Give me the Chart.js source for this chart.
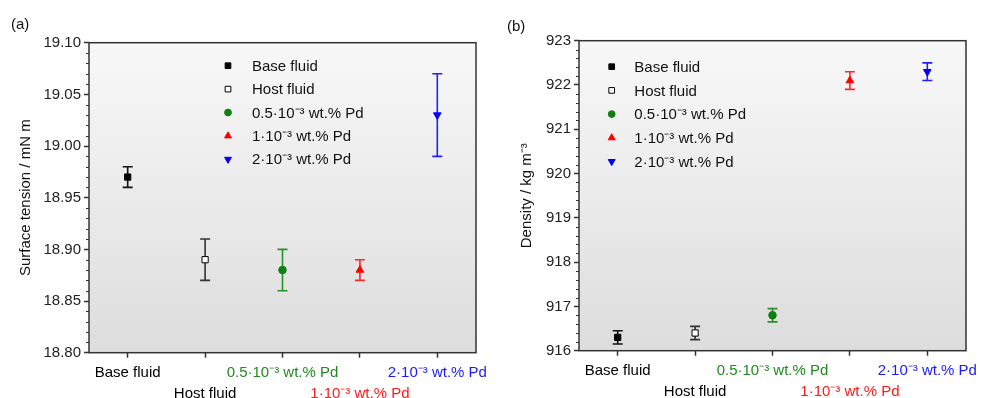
<!doctype html>
<html>
<head>
<title>Surface tension and density</title>
<script src="https://cdn.jsdelivr.net/npm/chart.js@4.4.0/dist/chart.umd.min.js"></script>
<style>
body{margin:0;background:#fff;}
#wrap{display:flex;width:981px;height:398px;}
canvas{display:block;}
</style>
</head>
<body>
<div id="wrap">
	<canvas id="left" width="490" height="398"></canvas>
	<canvas id="right" width="491" height="398"></canvas>
</div>
<script>
// data
const categories = ['Base fluid', 'Host fluid', '0.5·10⁻³ wt.% Pd', '1·10⁻³ wt.% Pd', '2·10⁻³ wt.% Pd'];
const tension = [18.97, 18.89, 18.88, 18.88, 19.03];
const tensionErr = [0.01, 0.02, 0.02, 0.01, 0.04];
const density = [916.3, 916.4, 916.8, 922.1, 922.3];
const densityErr = [0.15, 0.15, 0.15, 0.2, 0.2];
const tensionTicks = {min: 18.80, max: 19.10, step: 0.05, minor: 0.01};
const densityTicks = {min: 916, max: 923, step: 1, minor: 0.2};

const labelColors = ['#000000', '#000000', '#1f8a1f', '#ff1a1a', '#1a1aff'];
const fills = ['#000000', '#ffffff', '#108010', '#ff0000', '#0000ff'];
const borders = ['#000000', '#000000', '#108010', '#ff0000', '#0000ff'];
const barColors = ['#111111', '#333333', '#2a902a', '#ff2a2a', '#2020ff'];
const styles = ['rect', 'rect', 'circle', 'triangle', 'triangle'];
const rotations = [0, 0, 0, 0, 180];
const radii = [4.4, 4.4, 3.8, 4.4, 4.4];

const FONT = "'Liberation Sans', Arial, sans-serif";

const panelPlugin = {
	id: 'panel',
	beforeDraw(chart) {
		const {ctx, chartArea: a} = chart;
		const g = ctx.createLinearGradient(0, a.top, 0, a.bottom);
		g.addColorStop(0, '#f8f8f8');
		g.addColorStop(1, '#dddddd');
		ctx.save();
		ctx.fillStyle = g;
		ctx.fillRect(a.left, a.top, a.right - a.left, a.bottom - a.top);
		ctx.restore();
	},
	beforeDatasetsDraw(chart) {
		const ctx = chart.ctx;
		const ys = chart.scales.y;
		ctx.save();
		chart.data.datasets.forEach((ds, i) => {
			const meta = chart.getDatasetMeta(i);
			meta.data.forEach((pt, j) => {
				const v = ds.data[j];
				if (v === null) return;
				const e = ds.errors[j];
				const y1 = ys.getPixelForValue(v + e);
				const y2 = ys.getPixelForValue(v - e);
				ctx.strokeStyle = ds.barColor;
				ctx.lineWidth = 1.6;
				ctx.beginPath();
				ctx.moveTo(pt.x, y1); ctx.lineTo(pt.x, y2);
				ctx.moveTo(pt.x - 5, y1); ctx.lineTo(pt.x + 5, y1);
				ctx.moveTo(pt.x - 5, y2); ctx.lineTo(pt.x + 5, y2);
				ctx.stroke();
			});
		});
		ctx.restore();
	},
	afterDraw(chart, args, opts) {
		const {ctx, chartArea: a} = chart;
		const ys = chart.scales.y;
		ctx.save();
		// minor ticks
		const t = opts.ticks;
		const n = Math.round((t.max - t.min) / t.minor);
		const per = Math.round(t.step / t.minor);
		ctx.strokeStyle = '#333';
		ctx.lineWidth = 1;
		ctx.beginPath();
		for (let k = 0; k <= n; k++) {
			if (k % per === 0) continue;
			const y = Math.round(ys.getPixelForValue(t.min + k * t.minor)) + 0.5;
			ctx.moveTo(a.left - 3, y); ctx.lineTo(a.left, y);
		}
		ctx.stroke();
		// frame
		ctx.strokeStyle = '#333';
		ctx.lineWidth = 1.5;
		ctx.strokeRect(a.left, a.top, a.right - a.left, a.bottom - a.top);
		// legend
		ctx.font = '15px ' + FONT;
		ctx.textBaseline = 'middle';
		ctx.textAlign = 'left';
		chart.data.datasets.forEach((ds, i) => {
			const x = a.left + opts.legendX;
			const y = a.top + opts.legendY + i * opts.legendGap;
			ctx.fillStyle = ds.pointBackgroundColor;
			ctx.strokeStyle = ds.pointBorderColor;
			ctx.lineWidth = 1;
			Chart.helpers.drawPoint(ctx, {
				pointStyle: ds.pointStyle, radius: ds.pointRadius - 0.4,
				rotation: ds.pointRotation, borderWidth: 1
			}, x, y);
			ctx.fillStyle = '#111';
			ctx.fillText(ds.label, x + opts.textGap, y + 1);
		});
		// panel label
		ctx.fillStyle = '#111';
		ctx.font = '15px ' + FONT;
		ctx.fillText(opts.panel, opts.panelX, opts.panelY);
		ctx.restore();
	}
};

function makeChart(id, values, errors, ticks, title, box) {
	const datasets = categories.map((c, i) => ({
		label: c,
		data: categories.map((_, j) => (j === i ? values[i] : null)),
		errors: errors.map((e, j) => (j === i ? e : 0)),
		barColor: barColors[i],
		showLine: false,
		pointStyle: styles[i],
		pointRotation: rotations[i],
		pointRadius: radii[i],
		pointBackgroundColor: fills[i],
		pointBorderColor: borders[i],
		pointBorderWidth: 1
	}));
	return new Chart(document.getElementById(id), {
		type: 'line',
		data: {labels: categories, datasets: datasets},
		plugins: [panelPlugin],
		options: {
			responsive: false,
			animation: false,
			events: [],
			layout: {padding: {top: box.top, right: box.right, bottom: 0, left: 0}},
			plugins: {
				legend: {display: false},
				tooltip: {enabled: false},
				panel: {
					ticks: ticks, legendX: box.legendX, legendY: box.legendY, legendGap: box.legendGap,
					textGap: box.textGap, panel: box.panel, panelX: box.panelX, panelY: box.panelY
				}
			},
			scales: {
				x: {
					offset: true,
					afterFit: s => { s.height = box.xHeight; s.paddingLeft = 0; s.paddingRight = 0; },
					grid: {drawOnChartArea: false, tickLength: 5, tickColor: '#333', tickWidth: 1.5},
					border: {display: false},
					ticks: {
						autoSkip: false, maxRotation: 0, padding: 5,
						color: labelColors,
						font: {family: FONT, size: 15, lineHeight: 1.4},
						callback: (v, i) => (i % 2 ? ['', categories[i]] : categories[i])
					}
				},
				y: {
					min: ticks.min, max: ticks.max,
					afterFit: s => { s.width = box.yWidth; s.paddingTop = 0; s.paddingBottom = 0; },
					grid: {drawOnChartArea: false, tickLength: 5, tickColor: '#333', tickWidth: 1.5},
					border: {display: false},
					title: {
						display: true, text: title, color: '#111',
						font: {family: FONT, size: 15}, padding: {top: box.titlePad, bottom: 0}
					},
					ticks: {
						stepSize: ticks.step, padding: 3, color: '#222',
						font: {family: FONT, size: 15},
						callback: v => v.toFixed(box.decimals)
					}
				}
			}
		}
	});
}

makeChart('left', tension, tensionErr, tensionTicks, 'Surface tension / mN m', {
	top: 42.7, right: 14, xHeight: 45.3, yWidth: 89, titlePad: 17, decimals: 2,
	legendX: 139, legendY: 23, legendGap: 23.4, textGap: 24,
	panel: '(a)', panelX: 11, panelY: 25
});
makeChart('right', density, densityErr, densityTicks, 'Density / kg m⁻³', {
	top: 40.7, right: 15, xHeight: 47.3, yWidth: 89, titlePad: 28, decimals: 0,
	legendX: 32.7, legendY: 26, legendGap: 23.7, textGap: 22.6,
	panel: '(b)', panelX: 17, panelY: 27
});
</script>
</body>
</html>
